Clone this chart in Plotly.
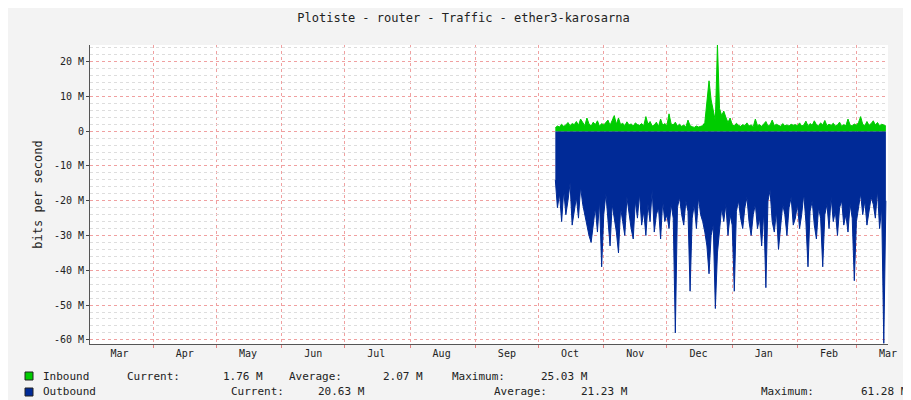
import pandas as pd
import plotly.graph_objects as go

# datos diarios desde 2022-10-09
start_date = "2022-10-09"
inbound = [1.0,1.5,1.2,2.0,1.4,1.8,2.5,1.6,2.2,1.9,
           2.8,1.7,3.5,2.4,1.6,3.8,2.1,1.5,2.6,1.9,
           3.0,1.4,2.2,1.8,2.6,3.2,1.7,2.9,4.5,2.0,
           3.8,1.9,2.3,1.6,2.7,1.8,2.1,1.5,2.4,1.9,
           1.7,2.2,1.6,4.2,2.0,2.8,1.5,1.8,2.6,1.4,
           3.5,1.7,2.2,1.6,5.0,2.1,1.8,2.6,1.5,2.0,
           1.4,1.8,1.2,3.2,1.6,1.3,1.1,1.5,1.2,1.4,
           1.6,2.5,8.0,14.5,9.0,6.0,3.0,25.0,6.5,4.5,
           5.8,4.0,2.5,3.8,1.9,1.5,2.3,1.7,1.4,1.9,
           1.6,2.4,1.5,1.8,1.3,3.5,1.6,1.9,1.4,2.1,
           2.8,1.5,1.8,3.2,1.6,2.0,1.7,1.4,2.2,1.6,
           1.8,1.5,2.0,1.7,1.9,1.6,2.4,1.5,1.8,2.9,
           1.6,2.2,1.7,3.0,1.9,1.5,2.4,1.8,3.1,1.6,
           2.0,1.7,2.3,1.5,1.8,2.6,1.4,1.9,1.6,3.5,
           1.8,1.5,2.1,1.7,2.5,4.2,2.0,1.6,2.8,1.7,
           2.2,3.0,1.8,2.5,1.6,2.0,1.8,1.5]
outbound = [-14,-22,-18,-26,-17,-24,-20,-15,-27,-23,
            -19,-25,-16,-21,-24,-28,-30,-32,-26,-22,
            -29,-20,-39,-24,-18,-27,-33,-21,-25,-29,
            -35,-22,-26,-30,-19,-24,-28,-31,-20,-25,
            -18,-27,-23,-30,-21,-26,-17,-29,-24,-22,
            -31,-20,-26,-24,-28,-21,-25,-58,-22,-19,
            -24,-27,-20,-23,-46,-25,-21,-28,-19,-24,
            -26,-29,-33,-41,-30,-27,-51,-35,-28,-22,
            -26,-21,-30,-24,-27,-46,-23,-20,-25,-28,
            -22,-19,-26,-30,-24,-21,-28,-25,-33,-23,
            -45,-20,-17,-26,-29,-23,-34,-27,-21,-24,
            -30,-22,-19,-27,-25,-21,-28,-24,-18,-26,
            -39,-23,-20,-27,-31,-22,-25,-39,-24,-21,
            -28,-19,-26,-23,-30,-22,-20,-27,-24,-29,
            -21,-25,-43,-26,-22,-18,-24,-20,-27,-23,
            -19,-21,-25,-17,-28,-22,-61,-20]
month_labels = ["Mar","Apr","May","Jun","Jul","Aug","Sep","Oct","Nov","Dec","Jan","Feb","Mar"]
y_ticks = [-60,-50,-40,-30,-20,-10,0,10,20]

fechas = pd.date_range(start_date, periods=len(inbound), freq="D")
mid_month = [pd.Timestamp(2022 + (2 + i) // 12, (2 + i) % 12 + 1, 16) for i in range(len(month_labels))]

mono = "DejaVu Sans Mono"
fig = go.Figure()
fig.add_trace(go.Scatter(x=fechas, y=outbound, fill="tozeroy", mode="lines",
                         line=dict(color="#002a97", width=1), fillcolor="#002a97"))
fig.add_trace(go.Scatter(x=fechas, y=inbound, fill="tozeroy", mode="lines",
                         line=dict(color="#00cc00", width=1), fillcolor="#00cc00"))

fig.update_layout(
    width=911, height=400, showlegend=False,
    paper_bgcolor="#f3f3f3", plot_bgcolor="white",
    margin=dict(l=82, r=31, t=37, b=64, autoexpand=False),
    font=dict(family=mono, size=10, color="#222"),
    title=dict(text="Plotiste - router - Traffic - ether3-karosarna", x=0.5, y=0.985,
               yanchor="top", font=dict(size=12)),
)
fig.update_xaxes(type="date", range=["2022-03-02", "2023-03-16"], automargin=False,
                 tickvals=mid_month, ticktext=month_labels, showgrid=False, ticks="",
                 showline=True, linecolor="#555",
                 minor=dict(tick0="2022-04-01", dtick="M1", showgrid=True,
                            gridcolor="#f0a0a0", griddash="dot", ticks="outside",
                            ticklen=3, tickcolor="#e08080"))
fig.update_yaxes(range=[-61.2, 24.8], tickvals=y_ticks, automargin=False,
                 ticktext=[f"{v} M" if v else "0" for v in y_ticks],
                 gridcolor="#f0a0a0", griddash="dot", zeroline=False,
                 showline=True, linecolor="#555", ticks="outside", ticklen=3,
                 title=dict(text="bits per second", standoff=8, font=dict(size=12)),
                 minor=dict(dtick=2, showgrid=True, gridcolor="#dddddd", griddash="dot"))

def px_x(p):
    return (p - 82) / 798

def px_y(p):
    return (400 - 64 - p) / 299

rows = [
    (368, "#00cc00", [(33, "Inbound"), (117, "Current:"), (213, "1.76 M"), (279, "Average:"),
                      (373, "2.07 M"), (442, "Maximum:"), (531, "25.03 M")]),
    (384, "#002a97", [(33, "Outbound"), (221, "Current:"), (308, "20.63 M"), (484, "Average:"),
                      (571, "21.23 M"), (751, "Maximum:"), (851, "61.28 M")]),
]
for ypix, color, items in rows:
    fig.add_shape(type="rect", xref="paper", yref="paper",
                  x0=px_x(17), x1=px_x(25), y0=px_y(ypix + 4), y1=px_y(ypix - 4),
                  fillcolor=color, line=dict(color="#222", width=1))
    for xpix, txt in items:
        fig.add_annotation(text=txt, xref="paper", yref="paper", x=px_x(xpix), y=px_y(ypix),
                           xanchor="left", yanchor="middle", showarrow=False,
                           font=dict(family=mono, size=11, color="#222"))

fig.add_annotation(text="RRDTOOL / TOBI OETIKER", xref="paper", yref="paper",
                   x=px_x(902), y=px_y(60), textangle=90, showarrow=False,
                   xanchor="center", yanchor="middle", font=dict(size=6, color="#aaa"))

fig.write_html("out.html")
